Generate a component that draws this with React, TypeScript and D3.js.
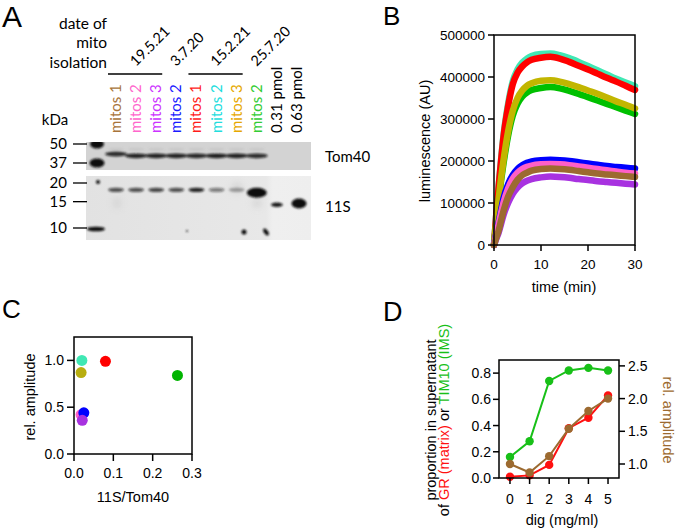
import React from "react";
import * as d3 from "d3";

// ---------- Panel A data ----------
const laneLabels = ["mitos 1", "mitos 2", "mitos 3", "mitos 2", "mitos 1", "mitos 2", "mitos 3", "mitos 2", "0.31 pmol", "0.63 pmol"];
const laneColors = ["#a8743a", "#ff66cc", "#cc33ff", "#1a1aff", "#ff1a1a", "#22dddd", "#e6a800", "#33cc33", "#000000", "#000000"];
const dateLabels = ["19.5.21", "3.7.20", "15.2.21", "25.7.20"];
const dateGroups = [[0, 2], [3, 3], [4, 6], [7, 7]];
const markerKDa = [50, 37, 20, 15, 10];
const tom40Intensity = [0.85, 0.9, 0.9, 0.9, 0.88, 0.92, 0.9, 0.85];
const s11Intensity = [0.7, 0.7, 0.75, 0.7, 0.9, 0.5, 0.3, 1.0, 0.95, 1.0];
const s11KDa = [18, 18, 18, 18, 18, 18, 18, 17.2, 14.3, 14.6];

// ---------- Panel B data (luminescence, thousands AU) ----------
const timeMin = [0, 0.5, 1, 1.5, 2, 3, 4, 5, 6, 7, 8, 10, 12, 14, 16, 18, 20, 22, 24, 26, 28, 30];
const lumTurquoise = [0, 76, 142, 203, 259, 336, 390, 418, 434, 444, 450, 455, 456, 452, 445, 436, 426, 416, 406, 396, 387, 378];
const lumRed = [0, 75, 140, 200, 255, 330, 383, 410, 425, 435, 441, 446, 448, 444, 436, 427, 418, 408, 398, 389, 379, 369];
const lumGreen = [0, 53, 105, 152, 192, 260, 308, 336, 353, 363, 369, 374, 376, 373, 367, 360, 352, 344, 336, 328, 320, 312];
const lumOlive = [0, 55, 110, 158, 200, 270, 320, 350, 368, 379, 385, 391, 392, 389, 383, 376, 368, 360, 351, 342, 334, 325];
const lumBlue = [0, 28, 55, 83, 110, 145, 167, 181, 190, 196, 199, 202, 203, 202, 200, 197, 194, 191, 188, 186, 184, 182];
const lumPurple = [0, 15, 30, 50, 70, 100, 122, 137, 147, 153, 157, 161, 163, 162, 160, 157, 155, 152, 150, 148, 146, 144];
const lumPink = [0, 25, 50, 76, 100, 135, 158, 172, 181, 186, 189, 192, 193, 192, 190, 187, 184, 181, 178, 175, 172, 170];
const lumBrown = [0, 18, 35, 58, 80, 115, 138, 155, 166, 172, 177, 181, 182, 181, 179, 176, 173, 170, 168, 166, 164, 162];
const lumSeries = [
  { values: lumTurquoise, color: "#40e8b4" },
  { values: lumRed, color: "#ff0000" },
  { values: lumGreen, color: "#00c000" },
  { values: lumOlive, color: "#c2b600" },
  { values: lumBlue, color: "#0000ff" },
  { values: lumPurple, color: "#a832e0" },
  { values: lumPink, color: "#ff5fc8" },
  { values: lumBrown, color: "#9c6a30" },
];
const lumTicks = [0, 100000, 200000, 300000, 400000, 500000];
const timeTicks = [0, 10, 20, 30];

// ---------- Panel C data ----------
const ratio11S = [0.02, 0.08, 0.018, 0.263, 0.018, 0.025, 0.021];
const relAmp = [1.0, 0.99, 0.87, 0.84, 0.42, 0.44, 0.36];
const cColors = ["#40e8b4", "#ff0000", "#b8ae10", "#00b400", "#ff5fc8", "#0000ff", "#a832e0"];
const cYTicks = [0, 0.5, 1.0];
const cXTicks = [0, 0.1, 0.2, 0.3];

// ---------- Panel D data ----------
const dig = [0, 1, 2, 3, 4, 5];
const tim10 = [0.16, 0.28, 0.74, 0.82, 0.84, 0.82];
const gr = [0.01, 0.02, 0.1, 0.38, 0.46, 0.63];
const relAmpD = [1.0, 0.87, 1.12, 1.54, 1.81, 2.0];
const dLeftTicks = [0, 0.2, 0.4, 0.6, 0.8];
const dRightTicks = [1.0, 1.5, 2.0, 2.5];

const W = 677, H = 530;
const SANS = "'Liberation Sans', Arial, sans-serif";
const CAL = "Lato, 'Open Sans', sans-serif";

function PanelA() {
  const lx = d3.scalePoint<number>().domain(d3.range(10)).range([116, 297]);
  const topY = d3.scaleLog().domain([50, 37]).range([144, 163]);
  const botY = d3.scaleLog().domain([20, 10]).range([183, 228]);
  const markerY = (k: number) => (k >= 37 ? topY(k) : botY(k));
  return (
    <g>
      <text x={2} y={27} fontFamily={SANS} fontSize={30}>A</text>
      <g fontFamily={CAL} fontSize={15.5} textAnchor="end">
        <text x={107} y={29}>date of</text>
        <text x={107} y={48}>mito</text>
        <text x={107} y={68}>isolation</text>
      </g>
      {dateLabels.map((d, i) => {
        const [a, b] = dateGroups[i];
        const cx = ((lx(a) as number) + (lx(b) as number)) / 2;
        return (
          <g key={d}>
            {a !== b && (
              <line x1={(lx(a) as number) - 8} x2={(lx(b) as number) + 6} y1={74} y2={74} stroke="#000" strokeWidth={1.3} />
            )}
            <text transform={`translate(${cx},${67}) rotate(-45)`} fontFamily={CAL} fontSize={14.5}>{d}</text>
          </g>
        );
      })}
      {laneLabels.map((l, i) => (
        <text key={i} transform={`translate(${(lx(i) as number) + 5},133) rotate(-90)`} fontFamily={CAL} fontSize={15} fill={laneColors[i]}>{l}</text>
      ))}
      <text x={55} y={125} fontFamily={CAL} fontSize={15} textAnchor="middle">kDa</text>
      {/* blots */}
      <defs>
        <linearGradient id="blot2" x1="0" x2="1" y1="0" y2="0">
          <stop offset="0" stopColor="#e2e2e2" />
          <stop offset="0.8" stopColor="#e8e8e8" />
          <stop offset="0.83" stopColor="#efefef" />
          <stop offset="1" stopColor="#eeeeee" />
        </linearGradient>
        <filter id="bl" x="-50%" y="-50%" width="200%" height="200%"><feGaussianBlur stdDeviation="1.3" /></filter>
        <filter id="bl3" x="-50%" y="-50%" width="200%" height="200%"><feGaussianBlur stdDeviation="3" /></filter>
        <clipPath id="clipTop"><rect x={86} y={142} width={225} height={28} /></clipPath>
      </defs>
      <rect x={86} y={142} width={225} height={28} fill="#d3d3d3" />
      <rect x={86} y={176} width={225} height={64} fill="url(#blot2)" />
      {/* faint smears */}
      <g filter="url(#bl3)" fill="#c8c8c8" opacity={0.5}>
        <ellipse cx={237} cy={188} rx={6} ry={6} />
        <ellipse cx={257} cy={203} rx={5} ry={5} />
        <ellipse cx={117} cy={203} rx={4} ry={6} />
      </g>
      {/* ladder */}
      <g filter="url(#bl)" fill="#111" clipPath="url(#clipTop)">
        <ellipse cx={97} cy={markerY(50) + 0} rx={7} ry={4.5} />
        <ellipse cx={97} cy={markerY(37)} rx={7.5} ry={4.5} />
      </g>
      <g filter="url(#bl)" fill="#111">
        <ellipse cx={98} cy={markerY(20) - 1} rx={2} ry={2} />
        <ellipse cx={96} cy={markerY(10) + 1} rx={9} ry={2.3} />
      </g>
      {/* Tom40 bands */}
      <g filter="url(#bl)">
        {tom40Intensity.map((v, i) => (
          <ellipse key={"f" + i} cx={lx(i) as number} cy={topY(46)} rx={8} ry={1} fill="#999" opacity={0.25} />
        ))}
        {tom40Intensity.map((v, i) => (
          <ellipse key={i} cx={lx(i) as number} cy={topY(42) + (i === 0 ? -1 : 0.8)} rx={11} ry={2.4} fill="#111" opacity={v} />
        ))}
      </g>
      {/* 11S bands */}
      <g filter="url(#bl)">
        {s11Intensity.map((v, i) => {
          const big = i === 7 || i === 9;
          return (
            <ellipse key={i} cx={(lx(i) as number) + (i === 9 ? 2 : 0)} cy={botY(s11KDa[i])}
              rx={big ? (i === 7 ? 10 : 7.5) : i === 8 ? 6 : 8} ry={big ? 5 : 2.2} fill="#111" opacity={v} />
          );
        })}
        <ellipse cx={244} cy={232} rx={2.5} ry={2.5} fill="#111" />
        <ellipse cx={266} cy={232} rx={2} ry={4} fill="#111" transform="rotate(-35,266,232)" />
        <ellipse cx={187} cy={231} rx={1} ry={1} fill="#222" />
      </g>
      {markerKDa.map((k) => (
        <g key={k}>
          <line x1={73} x2={87} y1={markerY(k)} y2={markerY(k)} stroke="#000" strokeWidth={1.3} />
          <text x={67} y={markerY(k)} dy="0.35em" textAnchor="end" fontFamily={CAL} fontSize={15}>{k}</text>
        </g>
      ))}
      <text x={325} y={162} fontFamily={CAL} fontSize={15}>Tom40</text>
      <text x={325} y={212} fontFamily={CAL} fontSize={15}>11S</text>
    </g>
  );
}

function PanelB() {
  const x = d3.scaleLinear().domain([0, 30]).range([494, 635]);
  const y = d3.scaleLinear().domain([0, 500000]).range([245, 35]);
  const line = d3.line<number>().x((_, i) => x(timeMin[i])).y((d) => y(d * 1000)).curve(d3.curveMonotoneX);
  return (
    <g fontFamily={SANS}>
      <text x={383} y={25} fontSize={26}>B</text>
      {lumSeries.map((s, i) => (
        <path key={i} d={line(s.values) as string} fill="none" stroke={s.color} strokeWidth={6.5} strokeLinecap="round" strokeLinejoin="round" />
      ))}
      <rect x={x(0)} y={y(500000)} width={x(30) - x(0)} height={y(0) - y(500000)} fill="none" stroke="#000" strokeWidth={1.5} />
      {lumTicks.map((t) => (
        <g key={t}>
          <line x1={x(0) - 6} x2={x(0)} y1={y(t)} y2={y(t)} stroke="#000" strokeWidth={1.5} />
          <text x={x(0) - 9} y={y(t)} dy="0.36em" textAnchor="end" fontSize={13.5}>{t}</text>
        </g>
      ))}
      {timeTicks.map((t) => (
        <g key={t}>
          <line x1={x(t)} x2={x(t)} y1={y(0)} y2={y(0) + 6} stroke="#000" strokeWidth={1.5} />
          <text x={x(t)} y={269} textAnchor="middle" fontSize={13.5}>{t}</text>
        </g>
      ))}
      <text x={564} y={292} textAnchor="middle" fontSize={14.5}>time (min)</text>
      <text transform="translate(430,141) rotate(-90)" textAnchor="middle" fontSize={14.5}>luminescence (AU)</text>
    </g>
  );
}

function PanelC() {
  const x = d3.scaleLinear().domain([0, 0.3]).range([74, 192]);
  const y = d3.scaleLinear().domain([0, 1.25]).range([454, 337]);
  return (
    <g fontFamily={SANS}>
      <text x={2} y={318} fontSize={26}>C</text>
      <rect x={x(0)} y={y(1.25)} width={x(0.3) - x(0)} height={y(0) - y(1.25)} fill="none" stroke="#000" strokeWidth={1.5} />
      {cYTicks.map((t) => (
        <g key={t}>
          <line x1={x(0) - 7} x2={x(0)} y1={y(t)} y2={y(t)} stroke="#000" strokeWidth={1.5} />
          <text x={x(0) - 10} y={y(t)} dy="0.36em" textAnchor="end" fontSize={14}>{t.toFixed(1)}</text>
        </g>
      ))}
      {cXTicks.map((t) => (
        <g key={t}>
          <line x1={x(t)} x2={x(t)} y1={y(0)} y2={y(0) + 7} stroke="#000" strokeWidth={1.5} />
          <text x={x(t)} y={478} textAnchor="middle" fontSize={14}>{t.toFixed(1)}</text>
        </g>
      ))}
      {ratio11S.map((r, i) => (
        <circle key={i} cx={x(r)} cy={y(relAmp[i])} r={5.5} fill={cColors[i]} />
      ))}
      <text x={133} y={502} textAnchor="middle" fontSize={14.5}>11S/Tom40</text>
      <text transform="translate(35,397) rotate(-90)" textAnchor="middle" fontSize={14.5}>rel. amplitude</text>
    </g>
  );
}

function PanelD() {
  const x = d3.scaleLinear().domain([-0.56, 5.56]).range([499, 619]);
  const yl = d3.scaleLinear().domain([0, 0.9]).range([478, 360]);
  const yr = d3.scaleLinear().domain([0.786, 2.59]).range([478, 360]);
  const lineL = d3.line<number>().x((_, i) => x(dig[i])).y((d) => yl(d));
  const lineR = d3.line<number>().x((_, i) => x(dig[i])).y((d) => yr(d));
  const brown = "#9c6a30";
  return (
    <g fontFamily={SANS}>
      <text x={383} y={321} fontSize={27}>D</text>
      <path d={lineL(tim10) as string} fill="none" stroke="#18c018" strokeWidth={2} />
      {tim10.map((v, i) => <circle key={i} cx={x(dig[i])} cy={yl(v)} r={4.2} fill="#18c018" />)}
      <path d={lineL(gr) as string} fill="none" stroke="#ff1010" strokeWidth={2} />
      {gr.map((v, i) => <circle key={i} cx={x(dig[i])} cy={yl(v)} r={4.2} fill="#ff1010" />)}
      <path d={lineR(relAmpD) as string} fill="none" stroke={brown} strokeWidth={2} />
      {relAmpD.map((v, i) => <circle key={i} cx={x(dig[i])} cy={yr(v)} r={4.2} fill={brown} />)}
      <rect x={499} y={360} width={120} height={118} fill="none" stroke="#000" strokeWidth={1.5} />
      {dLeftTicks.map((t) => (
        <g key={t}>
          <line x1={493} x2={499} y1={yl(t)} y2={yl(t)} stroke="#000" strokeWidth={1.5} />
          <text x={491} y={yl(t)} dy="0.36em" textAnchor="end" fontSize={14}>{t.toFixed(1)}</text>
        </g>
      ))}
      {dRightTicks.map((t) => (
        <g key={t}>
          <line x1={619} x2={625} y1={yr(t)} y2={yr(t)} stroke="#000" strokeWidth={1.5} />
          <text x={628} y={yr(t)} dy="0.36em" textAnchor="start" fontSize={14}>{t.toFixed(1)}</text>
        </g>
      ))}
      {dig.map((t) => (
        <g key={t}>
          <line x1={x(t)} x2={x(t)} y1={478} y2={484} stroke="#000" strokeWidth={1.5} />
          <text x={x(t)} y={504} textAnchor="middle" fontSize={14}>{t}</text>
        </g>
      ))}
      <text x={562} y={525} textAnchor="middle" fontSize={14.5}>dig (mg/ml)</text>
      <text transform="translate(436,420) rotate(-90)" textAnchor="middle" fontSize={14.5}>proportion in supernatant</text>
      <text transform="translate(449,420) rotate(-90)" textAnchor="middle" fontSize={14.5}>
        <tspan>of </tspan>
        <tspan fill="#ff1010">GR (matrix)</tspan>
        <tspan> or </tspan>
        <tspan fill="#18c018">TIM10 (IMS)</tspan>
      </text>
      <text transform="translate(663,420) rotate(90)" textAnchor="middle" fontSize={14.5} fill={brown}>rel. amplitude</text>
    </g>
  );
}

export default function App() {
  return (
    <div style={{ position: "absolute", left: 0, top: 0, width: W, height: H, background: "#fff" }}>
      <svg width={W} height={H} viewBox={`0 0 ${W} ${H}`} style={{ display: "block" }}>
        <rect width={W} height={H} fill="#fff" />
        <PanelA />
        <PanelB />
        <PanelC />
        <PanelD />
      </svg>
    </div>
  );
}
